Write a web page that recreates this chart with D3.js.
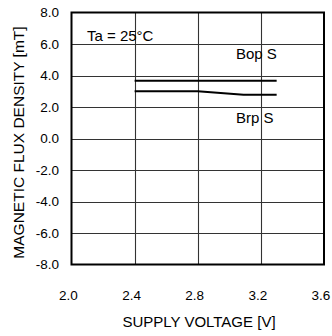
<!DOCTYPE html>
<html>
<head>
<meta charset="utf-8">
<script src="https://cdn.jsdelivr.net/npm/d3@7"></script>
<style>
  html, body { margin: 0; padding: 0; background: #fff; }
  svg { display: block; font-family: "Liberation Sans", Arial, sans-serif; }
</style>
</head>
<body>
<svg id="chart" width="332" height="336"></svg>
<script>
// Operate / release flux density vs. supply voltage
const xTicks = [2.0, 2.4, 2.8, 3.2, 3.6];
const yTicks = [-8, -6, -4, -2, 0, 2, 4, 6, 8];
const bopVoltage = [2.4, 2.8, 3.1, 3.3];
const bopValues  = [3.67, 3.67, 3.67, 3.67];
const brpVoltage = [2.4, 2.8, 3.09, 3.3];
const brpValues  = [3.0, 3.0, 2.78, 2.78];

const svg = d3.select("#chart");
const m = { left: 71.5, right: 324, top: 12.5, bottom: 264.5 };

const x = d3.scaleLinear().domain([2.0, 3.6]).range([m.left, m.right]);
const y = d3.scaleLinear().domain([-8, 8]).range([m.bottom, m.top]);

// grid
const grid = svg.append("g").attr("stroke", "#333").attr("stroke-width", 1.1);
grid.selectAll(".gx").data(xTicks.slice(1, -1)).join("line")
  .attr("x1", d => Math.round(x(d)) + 0.5).attr("x2", d => Math.round(x(d)) + 0.5)
  .attr("y1", m.top).attr("y2", m.bottom);
grid.selectAll(".gy").data(yTicks.slice(1, -1)).join("line")
  .attr("y1", d => Math.round(y(d)) + 0.5).attr("y2", d => Math.round(y(d)) + 0.5)
  .attr("x1", m.left).attr("x2", m.right);

// frame
svg.append("rect")
  .attr("x", m.left).attr("y", m.top)
  .attr("width", m.right - m.left).attr("height", m.bottom - m.top)
  .attr("fill", "none").attr("stroke", "#000").attr("stroke-width", 2);

// axes labels
svg.append("g").selectAll("text").data(xTicks).join("text")
  .attr("x", d => x(d) - 3).attr("y", 295)
  .attr("text-anchor", "middle").attr("dominant-baseline", "central")
  .attr("font-size", 13.5).attr("fill", "#000")
  .text(d => d.toFixed(1));

svg.append("g").selectAll("text").data(yTicks).join("text")
  .attr("x", 59).attr("y", d => y(d))
  .attr("text-anchor", "end").attr("dominant-baseline", "central")
  .attr("font-size", 13.5).attr("fill", "#000")
  .text(d => d.toFixed(1));

svg.append("text")
  .attr("x", 199).attr("y", 321)
  .attr("text-anchor", "middle").attr("dominant-baseline", "central")
  .attr("font-size", 15).attr("fill", "#000")
  .text("SUPPLY VOLTAGE [V]");

svg.append("text")
  .attr("transform", "translate(18,142.5) rotate(-90)")
  .attr("text-anchor", "middle").attr("dominant-baseline", "central")
  .attr("font-size", 15.5).attr("fill", "#000")
  .text("MAGNETIC FLUX DENSITY [mT]");

// curves
const line = d3.line().x(d => x(d[0])).y(d => y(d[1]));
svg.append("path").datum(d3.zip(bopVoltage, bopValues))
  .attr("d", line).attr("fill", "none").attr("stroke", "#000").attr("stroke-width", 2);
svg.append("path").datum(d3.zip(brpVoltage, brpValues))
  .attr("d", line).attr("fill", "none").attr("stroke", "#000").attr("stroke-width", 2);

// annotations
const notes = [
  { t: "Ta = 25°C", x: 87, y: 35 },
  { t: "Bop S", x: 236, y: 53 },
  { t: "Brp S", x: 236, y: 117 }
];
svg.append("g").selectAll("text").data(notes).join("text")
  .attr("x", d => d.x).attr("y", d => d.y)
  .attr("dominant-baseline", "central")
  .attr("font-size", 15).attr("fill", "#000")
  .text(d => d.t);
</script>
</body>
</html>
